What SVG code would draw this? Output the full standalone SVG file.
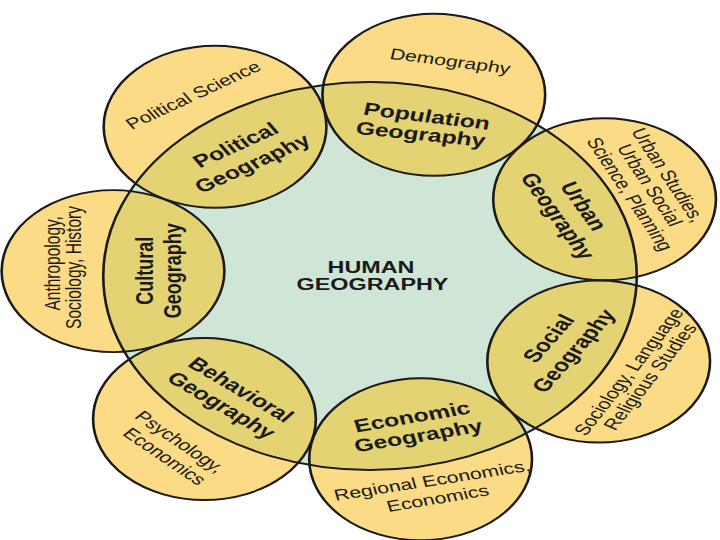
<svg xmlns="http://www.w3.org/2000/svg" xmlns:xlink="http://www.w3.org/1999/xlink" width="720" height="540" viewBox="0 0 720 540">
<style>
.sat-out{fill:#fbdb86;stroke:none}
.sat-in{fill:#e4d373;stroke:none}
.center{fill:#cfe5d6;stroke:none}
.outline{fill:none;stroke:#1a1a1a;stroke-width:1.9}
text{font-family:"Liberation Sans",Arial,Helvetica,sans-serif;fill:#1a1a1a;text-anchor:middle}
.b{font-size:18px;font-weight:bold}
.h{font-size:17px;font-weight:bold}
.r{font-size:15.5px}
</style>
<defs>
<circle id="c0" cx="269.1" cy="276" r="194"/>
<circle id="s-cul" cx="82.2" cy="271.1" r="81"/>
<circle id="s-pol" cx="156.4" cy="126.8" r="81"/>
<circle id="s-pop" cx="315.5" cy="94.8" r="81"/>
<circle id="s-urb" cx="439.7" cy="199.3" r="81"/>
<circle id="s-soc" cx="435.4" cy="361.5" r="81"/>
<circle id="s-eco" cx="305.9" cy="459.3" r="81"/>
<circle id="s-beh" cx="148.7" cy="419" r="81"/>
<clipPath id="inside"><use xlink:href="#c0"/></clipPath>
<clipPath id="outside"><path clip-rule="evenodd" d="M-100,-100 H700 V700 H-100 Z M75.1,276 a194,194 0 1,0 388,0 a194,194 0 1,0 -388,0 Z"/></clipPath>
</defs>
<rect width="720" height="540" fill="#ffffff"/>
<g transform="scale(1.375,1)">
<g id="node-human-geography">
<use xlink:href="#c0" class="center"/>
<text class="h" transform="translate(269.8,267.5)" dy="0.35em">HUMAN</text>
<text class="h" transform="translate(270.9,284)" dy="0.35em">GEOGRAPHY</text>
</g>
<g id="node-cultural">
<use xlink:href="#s-cul" class="sat-out" clip-path="url(#outside)"/>
<use xlink:href="#s-cul" class="sat-in" clip-path="url(#inside)"/>
<text class="b" transform="translate(104.7,270.8) rotate(-90)" dy="0.35em">Cultural</text>
<text class="b" transform="translate(125.3,270.8) rotate(-90)" dy="0.35em">Geography</text>
<text class="r" transform="translate(38,263.3) rotate(-90)" dy="0.35em">Anthropology,</text>
<text class="r" transform="translate(53.8,267.5) rotate(-90)" dy="0.35em">Sociology, History</text>
</g>
<g id="node-political">
<use xlink:href="#s-pol" class="sat-out" clip-path="url(#outside)"/>
<use xlink:href="#s-pol" class="sat-in" clip-path="url(#inside)"/>
<text class="b" transform="translate(171.2,145) rotate(-32)" dy="0.35em">Political</text>
<text class="b" transform="translate(183.5,163.3) rotate(-32)" dy="0.35em">Geography</text>
<text class="r" transform="translate(140.4,95) rotate(-32.5)" dy="0.35em">Political Science</text>
</g>
<g id="node-population">
<use xlink:href="#s-pop" class="sat-out" clip-path="url(#outside)"/>
<use xlink:href="#s-pop" class="sat-in" clip-path="url(#inside)"/>
<text class="b" transform="translate(310.5,116) rotate(9.5)" dy="0.35em">Population</text>
<text class="b" transform="translate(306,134) rotate(8)" dy="0.35em">Geography</text>
<text class="r" transform="translate(327.5,61) rotate(10)" dy="0.35em">Demography</text>
</g>
<g id="node-urban">
<use xlink:href="#s-urb" class="sat-out" clip-path="url(#outside)"/>
<use xlink:href="#s-urb" class="sat-in" clip-path="url(#inside)"/>
<text class="b" transform="translate(424.7,206) rotate(62)" dy="0.35em">Urban</text>
<text class="b" transform="translate(405.8,216) rotate(62)" dy="0.35em">Geography</text>
<text class="r" transform="translate(486,175) rotate(64)" dy="0.35em">Urban Studies,</text>
<text class="r" transform="translate(472.7,185) rotate(64)" dy="0.35em">Urban Social</text>
<text class="r" transform="translate(458.2,194) rotate(64)" dy="0.35em">Science, Planning</text>
</g>
<g id="node-social">
<use xlink:href="#s-soc" class="sat-out" clip-path="url(#outside)"/>
<use xlink:href="#s-soc" class="sat-in" clip-path="url(#inside)"/>
<text class="b" transform="translate(398.8,338.3) rotate(-57)" dy="0.35em">Social</text>
<text class="b" transform="translate(417,350.7) rotate(-57)" dy="0.35em">Geography</text>
<text class="r" transform="translate(458.2,370) rotate(-60)" dy="0.35em">Sociology, Language,</text>
<text class="r" transform="translate(472.7,376.7) rotate(-60)" dy="0.35em">Religious Studies</text>
</g>
<g id="node-economic">
<use xlink:href="#s-eco" class="sat-out" clip-path="url(#outside)"/>
<use xlink:href="#s-eco" class="sat-in" clip-path="url(#inside)"/>
<text class="b" transform="translate(299.6,416.7) rotate(-13)" dy="0.35em">Economic</text>
<text class="b" transform="translate(304.2,435.7) rotate(-13)" dy="0.35em">Geography</text>
<text class="r" transform="translate(314.2,480.3) rotate(-12)" dy="0.35em">Regional Economics,</text>
<text class="r" transform="translate(318.3,498.3) rotate(-13)" dy="0.35em">Economics</text>
</g>
<g id="node-behavioral">
<use xlink:href="#s-beh" class="sat-out" clip-path="url(#outside)"/>
<use xlink:href="#s-beh" class="sat-in" clip-path="url(#inside)"/>
<text class="b" transform="translate(175.4,389.5) rotate(39)" dy="0.35em">Behavioral</text>
<text class="b" transform="translate(161.2,405) rotate(39)" dy="0.35em">Geography</text>
<text class="r" transform="translate(130.9,441.7) rotate(43)" dy="0.35em">Psychology,</text>
<text class="r" transform="translate(119.8,456.3) rotate(43)" dy="0.35em">Economics</text>
</g>
<g id="connectors">
<use xlink:href="#c0" class="outline"/>
<use xlink:href="#s-cul" class="outline"/>
<use xlink:href="#s-pol" class="outline"/>
<use xlink:href="#s-pop" class="outline"/>
<use xlink:href="#s-urb" class="outline"/>
<use xlink:href="#s-soc" class="outline"/>
<use xlink:href="#s-eco" class="outline"/>
<use xlink:href="#s-beh" class="outline"/>
</g>
</g>
</svg>
